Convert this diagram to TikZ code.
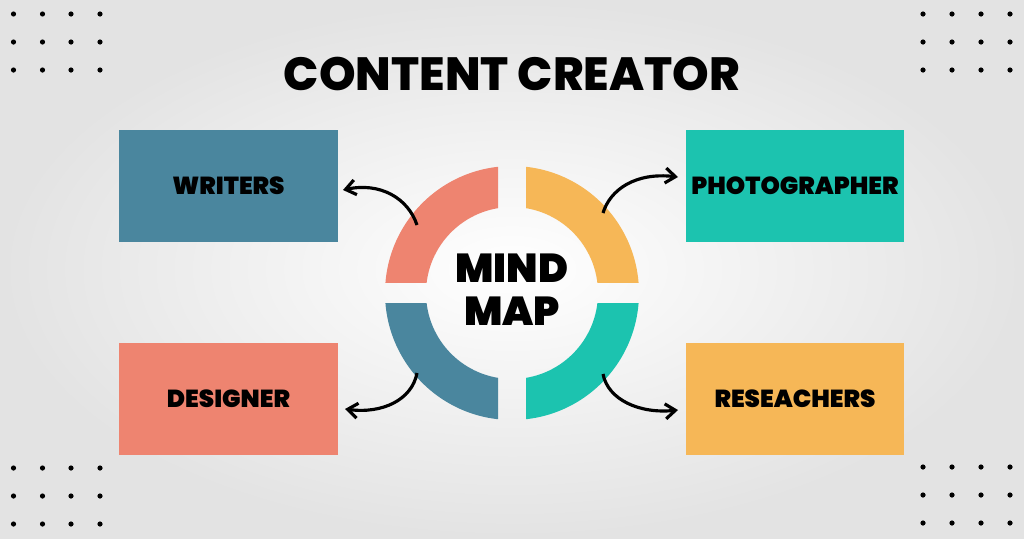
\documentclass[tikz,border=0pt]{standalone}
\usepackage{fontspec}
\usetikzlibrary{arrows.meta}
\newfontfamily\titlefont{Poppins ExtraBold}
\newfontfamily\heavyfont{Poppins Black}
\definecolor{mmsalmon}{HTML}{EE8470}
\definecolor{mmyellow}{HTML}{F6B757}
\definecolor{mmblue}{HTML}{4A869E}
\definecolor{mmteal}{HTML}{1CC3AF}

\begin{document}
\begin{tikzpicture}[x=0.02cm,y=-0.02cm]
\tikzstyle{every node}+=[inner sep=0pt]
\tikzstyle{box}=[minimum width=4.38cm,minimum height=2.24cm,font=\heavyfont\fontsize{14}{14}\selectfont]
\tikzstyle{link}=[black,line width=1.8pt,-{Straight Barb[length=2mm,width=3mm]}]
\useasboundingbox (0,0) rectangle (1024,538);
\shade [inner color=white,outer color=gray!22] (0,0) rectangle (1024,538);
\foreach \x in {13.5,42.5,71,100} \foreach \y in {14,42,70,468,496,524} \fill [black] (\x,\y) circle (0.052cm);
\foreach \x in {923,952,981,1010} \foreach \y in {14,42,70,467,495,523} \fill [black] (\x,\y) circle (0.052cm);
\node [font=\titlefont\fontsize{26.5}{26.5}\selectfont] (title) at (512,73.5) {CONTENT CREATOR};
\begin{scope}
\clip (0,0) rectangle (498,282.5);
\fill [mmsalmon,even odd rule] (512,293) circle (2.54cm) circle (1.72cm);
\end{scope}
\begin{scope}
\clip (526,0) rectangle (1024,282.5);
\fill [mmyellow,even odd rule] (512,293) circle (2.54cm) circle (1.72cm);
\end{scope}
\begin{scope}
\clip (0,303.5) rectangle (498,538);
\fill [mmblue,even odd rule] (512,293) circle (2.54cm) circle (1.72cm);
\end{scope}
\begin{scope}
\clip (526,303.5) rectangle (1024,538);
\fill [mmteal,even odd rule] (512,293) circle (2.54cm) circle (1.72cm);
\end{scope}
\node [align=center,font=\heavyfont\fontsize{23}{24.5}\selectfont] (mind) at (512,290) {MIND\\MAP};
\node [box,fill=mmblue] (writers) at (228.5,186) {WRITERS};
\node [box,fill=mmteal] (photographer) at (795,186) {PHOTOGRAPHER};
\node [box,fill=mmsalmon] (designer) at (228.5,399) {DESIGNER};
\node [box,fill=mmyellow] (researchers) at (795,399) {RESEACHERS};
\coordinate (tl) at (417,225);
\coordinate (tr) at (603,213);
\coordinate (bl) at (417,373);
\coordinate (br) at (603,374);
\coordinate (writers tip) at (343,190);
\coordinate (photographer tip) at (678,177);
\coordinate (designer tip) at (345,409);
\coordinate (researchers tip) at (678,410);
\draw [link] (tl) .. controls (408,198) and (380,182) .. (writers tip);
\draw [link] (tr) .. controls (610,190) and (635,172) .. (photographer tip);
\draw [link] (bl) .. controls (412,400) and (382,414) .. (designer tip);
\draw [link] (br) .. controls (608,400) and (640,414) .. (researchers tip);
\end{tikzpicture}
\end{document}
